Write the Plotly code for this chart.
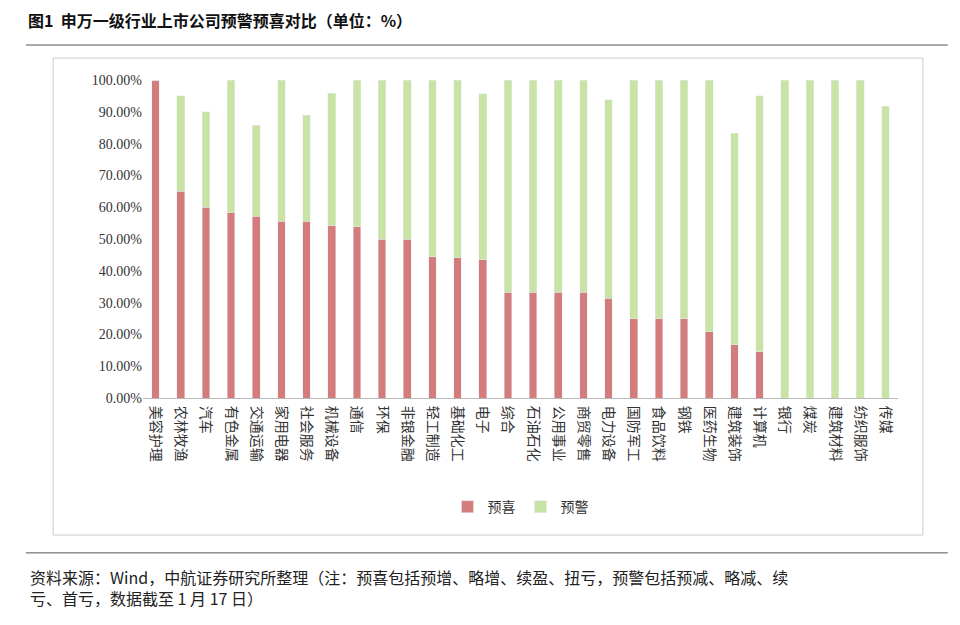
import plotly.graph_objects as go

categories = ["美容护理","农林牧渔","汽车","有色金属","交通运输","家用电器","社会服务","机械设备","通信","环保",
              "非银金融","轻工制造","基础化工","电子","综合","石油石化","公用事业","商贸零售","电力设备","国防军工",
              "食品饮料","钢铁","医药生物","建筑装饰","计算机","银行","煤炭","建筑材料","纺织服饰","传媒"]
yuxi = [100,65,60,58.3,57.1,55.6,55.6,54.2,53.8,50,50,44.4,44.1,43.5,33.3,33.3,33.3,33.3,31.3,25,25,25,20.8,16.7,14.6,0,0,0,0,0]
total = [100,95,90,100,85.7,100,88.9,95.8,100,100,100,100,100,95.7,100,100,100,100,93.8,100,100,100,100,83.3,95.1,100,100,100,100,91.7]
yujing = [round(t - r, 1) for t, r in zip(total, yuxi)]
yticks = [0,10,20,30,40,50,60,70,80,90,100]

font = "Noto Sans CJK SC"
fig = go.Figure()
fig.add_bar(x=categories, y=yuxi, name="预喜", marker_color="#d47b7b", width=0.3)
fig.add_bar(x=categories, y=yujing, name="预警", marker_color="#c8e3a3", width=0.3)
fig.update_layout(
    barmode="stack", width=960, height=625, plot_bgcolor="white", paper_bgcolor="white",
    font=dict(family=font, color="#333", size=13),
    margin=dict(l=135, r=70, t=72, b=235),
    legend=dict(orientation="h", traceorder="normal", x=0.5, xanchor="center", y=-0.343, yanchor="middle", font=dict(size=14)),
    xaxis=dict(tickangle=90, tickfont=dict(size=14), showline=True, linecolor="#bbb", ticks="outside",
               ticklen=4, tickcolor="white", range=[-0.5, 29.5]),
    yaxis=dict(range=[0, 100], tickvals=yticks, ticktext=[f"{v:.2f}%" for v in yticks],
               showgrid=False, showline=False, tickfont=dict(size=14, family="Liberation Serif")),
    shapes=[
        dict(type="line", xref="paper", yref="paper", x0=-0.155, x1=1.066, y0=1.11, y1=1.11, line=dict(color="#555", width=1)),
        dict(type="rect", xref="paper", yref="paper", x0=-0.119, x1=1.033, y0=-0.431, y1=1.069, line=dict(color="#ccc", width=1)),
        dict(type="line", xref="paper", yref="paper", x0=-0.155, x1=1.066, y0=-0.487, y1=-0.487, line=dict(color="#555", width=1)),
    ],
    annotations=[
        dict(text="<b>图1  申万一级行业上市公司预警预喜对比（单位：%）</b>", xref="paper", yref="paper", x=-0.155, y=1.19,
             xanchor="left", yanchor="middle", showarrow=False, font=dict(size=16, color="#111")),
        dict(text="资料来源：Wind，中航证券研究所整理（注：预喜包括预增、略增、续盈、扭亏，预警包括预减、略减、续<br>亏、首亏，数据截至 1 月 17 日）",
             xref="paper", yref="paper", x=-0.152, y=-0.52, xanchor="left", yanchor="top", align="left",
             showarrow=False, font=dict(size=16, color="#222")),
    ],
)
fig.write_html("out.html")
